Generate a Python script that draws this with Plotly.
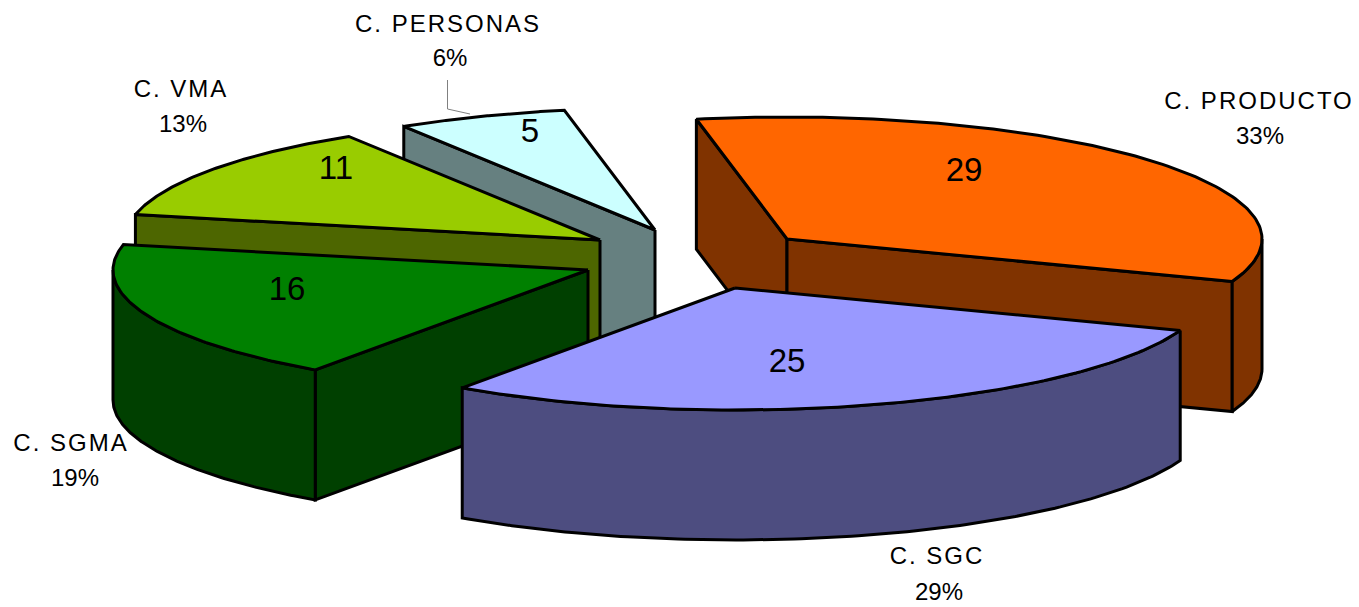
import numpy as np
import plotly.graph_objects as go

# ---- data ----
categories = ["C. PRODUCTO", "C. SGC", "C. SGMA", "C. VMA", "C. PERSONAS"]
values = [29, 25, 16, 11, 5]
percent_labels = ["33%", "29%", "19%", "13%", "6%"]

# ---- styles / layout constants ----
top_colors = ["#FF6600", "#9999FF", "#008000", "#99CC00", "#CCFFFF"]
wall_colors = ["#803300", "#4D4D80", "#004000", "#4D6600", "#668080"]
slice_centers = [(787, 239), (735, 288), (588, 270), (600, 240), (655, 230)]
value_label_pos = [(964, 173), (787, 364), (287, 292), (336, 171), (530, 134)]
name_label_pos = [(1259, 103), (937, 558), (71, 445), (181, 91), (448, 26)]
pct_label_pos = [(1260, 138), (939, 594), (75, 480), (183, 126), (450, 60)]
RX, RY, DEPTH = 475, 122, 130
START_ANGLE = 101.0
W, H = 1359, 607
PAGE_MARGIN = 8  # default body margin of the written page
EDGE = dict(color="black", width=3)
FONT = "Liberation Sans, Arial, sans-serif"

fig = go.Figure()


def poly(xs, ys, fill):
    fig.add_trace(go.Scatter(x=list(xs) + [xs[0]], y=list(ys) + [ys[0]], mode="lines",
                             fill="toself", fillcolor=fill, line=EDGE,
                             hoverinfo="skip", showlegend=False))


def rim(cx, cy, a0, a1):
    t = np.radians(np.linspace(a0, a1, 120))
    return cx + RX * np.cos(t), cy - RY * np.sin(t)


# angular extents follow from the values, clockwise from START_ANGLE
spans = [v / sum(values) * 360 for v in values]
starts = [START_ANGLE - sum(spans[:i]) for i in range(len(values))]

# painter's order: rear slices first
for i in [4, 3, 2, 0, 1]:
    a0, a1 = starts[i], starts[i] - spans[i]
    cx, cy = slice_centers[i]
    # radial cut walls that face the viewer
    ex0, ey0 = rim(cx, cy, a0, a0)
    ex1, ey1 = rim(cx, cy, a1, a1)
    if np.cos(np.radians(a0)) < 0:
        poly([cx, ex0[0], ex0[0], cx], [cy, ey0[0], ey0[0] + DEPTH, cy + DEPTH], wall_colors[i])
    if np.cos(np.radians(a1)) > 0:
        poly([cx, ex1[0], ex1[0], cx], [cy, ey1[0], ey1[0] + DEPTH, cy + DEPTH], wall_colors[i])
    # outer curved wall: the part of the rim on the front half (angle in 180..360)
    for k in (-1, 0):
        f0, f1 = 180 + 360 * k, 360 + 360 * k
        s0, s1 = max(a1, f0), min(a0, f1)
        if s1 > s0:
            rx, ry = rim(cx, cy, s1, s0)
            poly(list(rx) + list(rx[::-1]), list(ry) + list(ry[::-1] + DEPTH), wall_colors[i])
    # top face
    rx, ry = rim(cx, cy, a0, a1)
    poly([cx] + list(rx), [cy] + list(ry), top_colors[i])

# leader line for the smallest slice
fig.add_trace(go.Scatter(x=[447.5, 447.5, 470], y=[80, 109, 114], mode="lines",
                         line=dict(color="#808080", width=1), hoverinfo="skip", showlegend=False))

# value labels
fig.add_trace(go.Scatter(x=[p[0] for p in value_label_pos], y=[p[1] for p in value_label_pos],
                         text=[str(v) for v in values], mode="text", textposition="middle center",
                         textfont=dict(family=FONT, size=33, color="black"),
                         hoverinfo="skip", showlegend=False))
# category and percent labels
for pos, txt in ((name_label_pos, categories), (pct_label_pos, percent_labels)):
    fig.add_trace(go.Scatter(x=[p[0] for p in pos], y=[p[1] for p in pos], text=txt,
                             mode="text", textposition="middle center",
                             textfont=dict(family=FONT, size=24, color="black"),
                             hoverinfo="skip", showlegend=False))

fig.update_layout(width=W - PAGE_MARGIN, height=H - PAGE_MARGIN,
                  margin=dict(l=0, r=0, t=0, b=0),
                  paper_bgcolor="white", plot_bgcolor="white",
                  xaxis=dict(range=[PAGE_MARGIN, W], visible=False, fixedrange=True),
                  yaxis=dict(range=[H, PAGE_MARGIN], visible=False, fixedrange=True))
# the reference's category names are set with wide tracking; Plotly has no font option for it
spacing_js = ("document.querySelectorAll('.textpoint text').forEach(function(t){"
              "if(t.textContent.indexOf('C.')===0){t.style.letterSpacing='2px';}});")
fig.write_html("out.html", config={"displayModeBar": False}, post_script=spacing_js)
